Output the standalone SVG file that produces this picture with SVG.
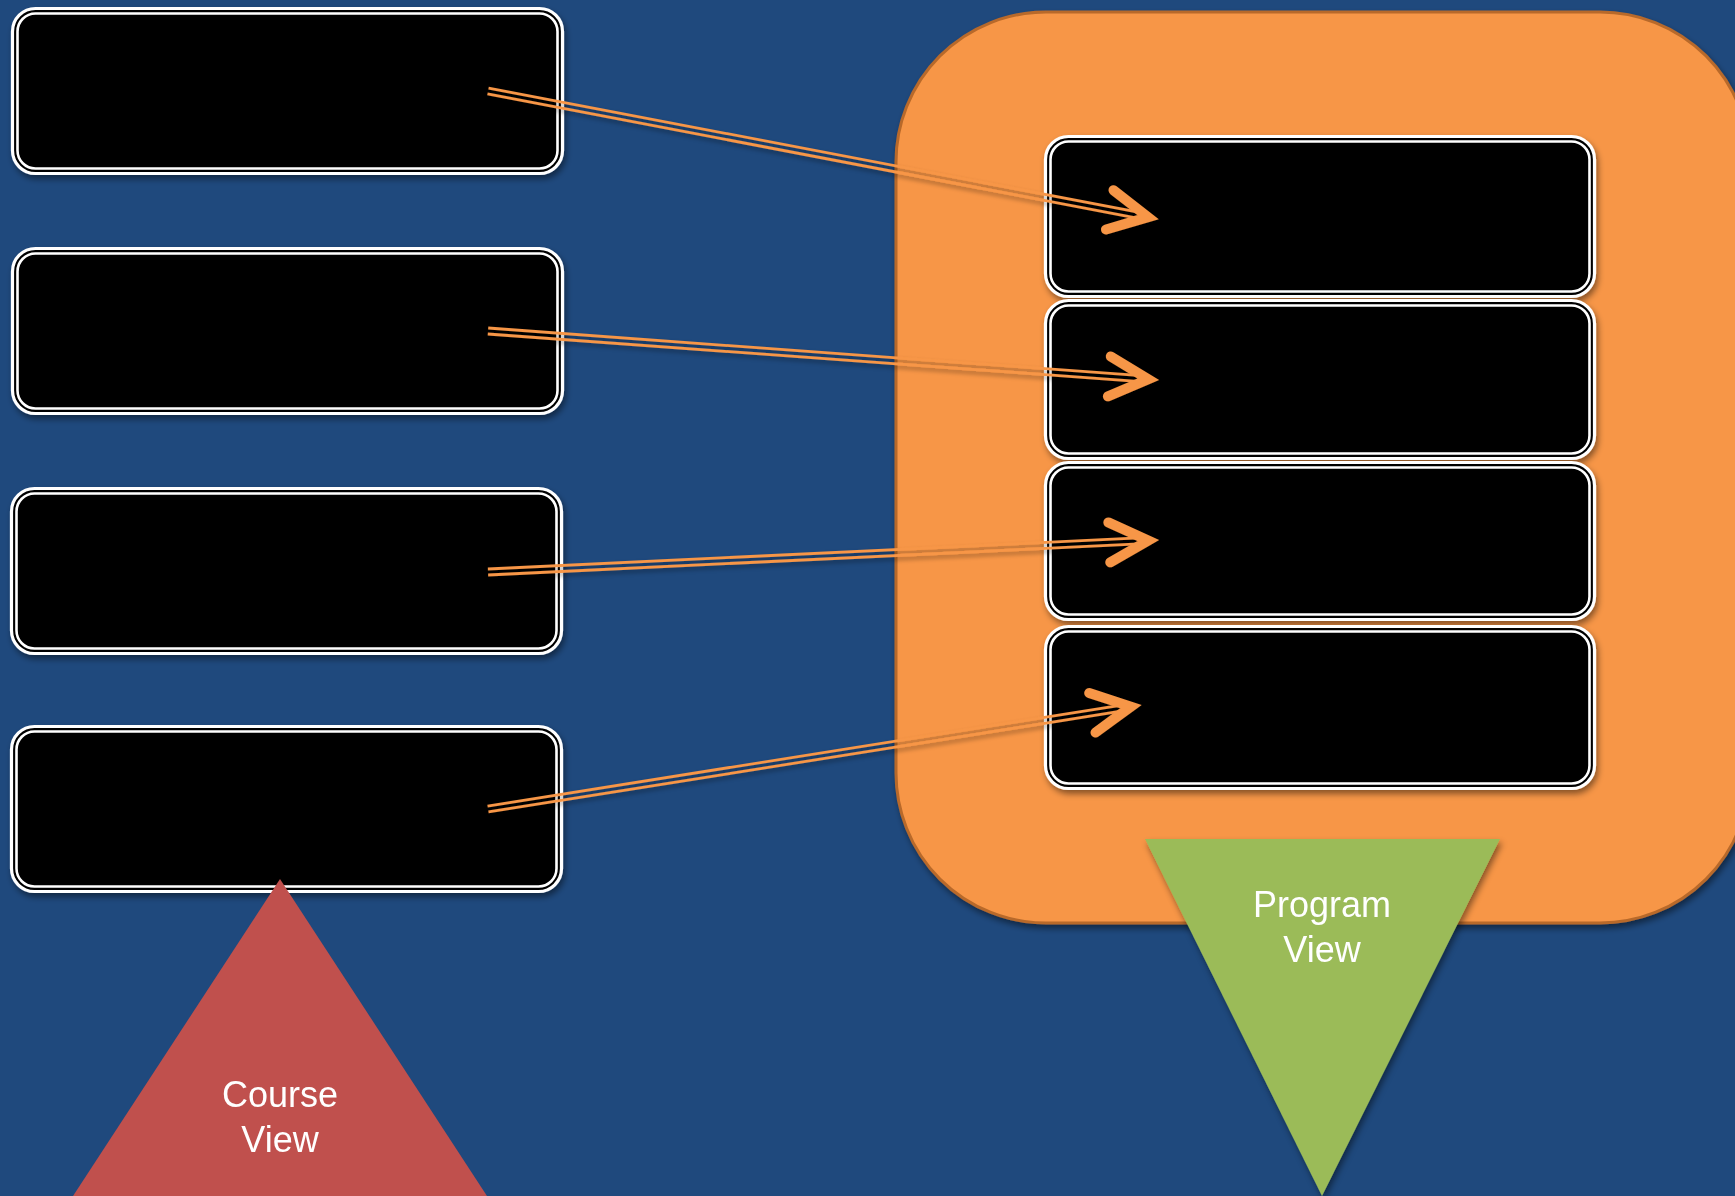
<svg xmlns="http://www.w3.org/2000/svg" width="1735" height="1196" viewBox="0 0 1735 1196">
<defs>
<filter id="sh" x="-10%" y="-10%" width="120%" height="130%">
<feDropShadow dx="2" dy="4" stdDeviation="3" flood-color="#000" flood-opacity="0.45"/>
</filter>
<filter id="lsh" x="-5%" y="-50%" width="110%" height="200%">
<feDropShadow dx="1" dy="3" stdDeviation="2" flood-color="#000" flood-opacity="0.35"/>
</filter>
<style>
.o{fill:#000;stroke:#fff;stroke-width:3.2}
.i{fill:none;stroke:#fff;stroke-width:2.6}
.ln{stroke:#f79646;stroke-width:2.8;fill:none}
.hd{stroke:#f79646;stroke-width:10;fill:none;stroke-linecap:round;stroke-linejoin:miter;stroke-miterlimit:10}
.lbl{font-family:"Liberation Sans",Arial,sans-serif;font-size:36px;fill:#fff;text-anchor:middle}
</style>
</defs>
<rect x="0" y="0" width="1735" height="1196" fill="#1f497d"/>

<g id="program-container">
<rect x="896" y="12" width="854" height="911" rx="150" fill="#f79646" stroke="#b8692b" stroke-width="3" filter="url(#sh)"/>
</g>

<g id="course-1" filter="url(#sh)">
<rect class="o" x="12.5" y="8.5" width="550" height="165" rx="23"/>
<rect class="i" x="17.5" y="13.5" width="540" height="155" rx="18"/>
</g>
<g id="course-2" filter="url(#sh)">
<rect class="o" x="12.5" y="248.5" width="550" height="165" rx="23"/>
<rect class="i" x="17.5" y="253.5" width="540" height="155" rx="18"/>
</g>
<g id="course-3" filter="url(#sh)">
<rect class="o" x="11.5" y="488.5" width="550" height="165" rx="23"/>
<rect class="i" x="16.5" y="493.5" width="540" height="155" rx="18"/>
</g>
<g id="course-4" filter="url(#sh)">
<rect class="o" x="11.5" y="726.5" width="550" height="165" rx="23"/>
<rect class="i" x="16.5" y="731.5" width="540" height="155" rx="18"/>
</g>

<g id="program-1" filter="url(#sh)">
<rect class="o" x="1045.5" y="136.5" width="549" height="160" rx="23"/>
<rect class="i" x="1050.5" y="141.5" width="539" height="150" rx="18"/>
</g>
<g id="program-2" filter="url(#sh)">
<rect class="o" x="1045.5" y="300.5" width="549" height="158" rx="23"/>
<rect class="i" x="1050.5" y="305.5" width="539" height="148" rx="18"/>
</g>
<g id="program-3" filter="url(#sh)">
<rect class="o" x="1045.5" y="462.5" width="549" height="157" rx="23"/>
<rect class="i" x="1050.5" y="467.5" width="539" height="147" rx="18"/>
</g>
<g id="program-4" filter="url(#sh)">
<rect class="o" x="1045.5" y="626.5" width="549" height="162" rx="23"/>
<rect class="i" x="1050.5" y="631.5" width="539" height="152" rx="18"/>
</g>

<g id="connectors" filter="url(#lsh)">
<g transform="translate(488,91) rotate(10.82)">
<line class="ln" x1="0" y1="-3" x2="668" y2="-3"/>
<line class="ln" x1="0" y1="3" x2="668" y2="3"/>
<path class="hd" d="M633,-20 L672,0 L633,20"/>
</g>
<g transform="translate(488,331) rotate(4.18)">
<line class="ln" x1="0" y1="-3" x2="658" y2="-3"/>
<line class="ln" x1="0" y1="3" x2="658" y2="3"/>
<path class="hd" d="M623,-20 L662,0 L623,20"/>
</g>
<g transform="translate(488,572) rotate(-2.73)">
<line class="ln" x1="0" y1="-3" x2="657" y2="-3"/>
<line class="ln" x1="0" y1="3" x2="657" y2="3"/>
<path class="hd" d="M622,-20 L661,0 L622,20"/>
</g>
<g transform="translate(488,809) rotate(-9.05)">
<line class="ln" x1="0" y1="-3" x2="647" y2="-3"/>
<line class="ln" x1="0" y1="3" x2="647" y2="3"/>
<path class="hd" d="M612,-20 L651,0 L612,20"/>
</g>
</g>

<g id="course-view">
<polygon points="280,879 487,1196 73,1196" fill="#c0504d"/>
<text class="lbl" x="280" y="1107">Course</text>
<text class="lbl" x="280" y="1152">View</text>
</g>

<g id="program-view">
<polygon points="1145,839 1500,839 1322,1196" fill="#9bbb59" filter="url(#sh)"/>
<text class="lbl" x="1322" y="917">Program</text>
<text class="lbl" x="1322" y="962">View</text>
</g>
</svg>
